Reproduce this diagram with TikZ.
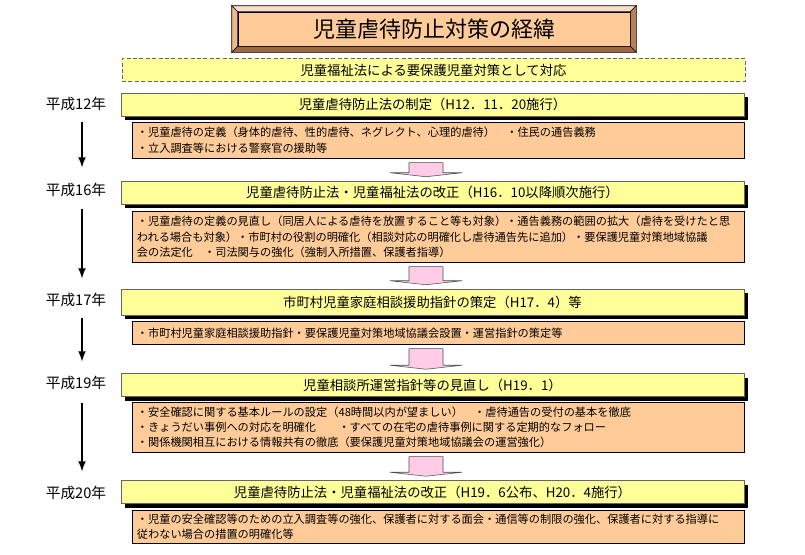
\documentclass[tikz,border=0pt]{standalone}
\usepackage{fontspec}
\setmainfont{Noto Sans CJK JP}
\usepackage{xcolor}
\usetikzlibrary{calc,shadows}
\definecolor{headyellow}{HTML}{FFFF99}
\definecolor{notepeach}{HTML}{FFCC99}
\definecolor{steppink}{HTML}{FFCCE8}
\definecolor{bevellight}{HTML}{FBDDC2}
\definecolor{bevelmid}{HTML}{EDB98F}
\definecolor{beveldark}{HTML}{B88058}
\definecolor{beveldeep}{HTML}{9C6842}
\tikzset{
  titlebox/.style  = {shape=rectangle, draw, fill=notepeach, inner sep=0pt,
          minimum width=294pt, minimum height=25.5pt,
          font=\fontsize{16.5}{18}\selectfont},
  introbox/.style  = {shape=rectangle, draw=black!60, dash pattern=on 3pt off 1.8pt,
          fill=headyellow, inner sep=0pt, minimum width=467.25pt,
          minimum height=17.5pt, font=\fontsize{10}{12}\selectfont},
  headbox/.style   = {shape=rectangle, draw=black!60, fill=headyellow, inner sep=0pt,
          minimum width=467.25pt, minimum height=17.25pt,
          font=\fontsize{10}{12}\selectfont,
          drop shadow={shadow xshift=3pt, shadow yshift=-3pt, fill=black, opacity=1}},
  notebox/.style   = {shape=rectangle, draw, fill=notepeach, anchor=north west,
          text width=452pt, align=left, inner xsep=3.5pt, inner ysep=0pt,
          font=\fontsize{8.4}{11.5}\selectfont},
  yearlabel/.style = {font=\fontsize{11}{13}\selectfont},
  timeline/.style  = {-latex, line width=1.6pt},
  pinkarrow/.style = {draw=black!70, fill=steppink, line join=round}
}
\newcommand\pinkstep[2]{%
  \draw[pinkarrow] ($(ax |- #1.south)+(-17,4)$) -- ($(ax |- #1.south)+(17,4)$)
    -- ($(ax |- #2.north)+(17,-8)$) -- ($(ax |- #2.north)+(36,-8)$)
    -- ($(ax |- #2.north)+(0,-4)$) -- ($(ax |- #2.north)+(-36,-8)$)
    -- ($(ax |- #2.north)+(-17,-8)$) -- cycle;}

\begin{document}
\begin{tikzpicture}[x=0.75pt, y=-0.75pt]
  \useasboundingbox (0,0) rectangle (805,554);
  \coordinate (ax) at (426,0);
  \coordinate (lx) at (82,0);

  % title with bevelled frame
  \node [titlebox] (title) at (434,29) {児童虐待防止対策の経緯};
  \draw [fill=bevellight] ($(title.north west)+(-6,-6)$) -- ($(title.north east)+(6,-6)$)
    -- (title.north east) -- (title.north west) -- cycle;
  \draw [fill=bevelmid] ($(title.north west)+(-6,-6)$) -- (title.north west)
    -- (title.south west) -- ($(title.south west)+(-6,6)$) -- cycle;
  \draw [fill=beveldark] ($(title.north east)+(6,-6)$) -- (title.north east)
    -- (title.south east) -- ($(title.south east)+(6,6)$) -- cycle;
  \draw [fill=beveldeep] ($(title.south west)+(-6,6)$) -- (title.south west)
    -- (title.south east) -- ($(title.south east)+(6,6)$) -- cycle;

  \node [introbox] (intro) at (433.5,70) {児童福祉法による要保護児童対策として対応};

  % H12
  \node [yearlabel] (y12) at (76,104) {平成12年};
  \node [headbox] (h12) at (432.5,104.5) {児童虐待防止法の制定（H12．11．20施行）};
  \node [notebox, minimum height=27pt] (n12) at (132,122)
    {・児童虐待の定義（身体的虐待、性的虐待、ネグレクト、心理的虐待）　・住民の通告義務\\
     ・立入調査等における警察官の援助等};

  % H16
  \node [yearlabel] (y16) at (76,190) {平成16年};
  \node [headbox] (h16) at (432.5,192.5) {児童虐待防止法・児童福祉法の改正（H16．10以降順次施行）};
  \node [notebox, minimum height=38.25pt] (n16) at (132,211)
    {・児童虐待の定義の見直し（同居人による虐待を放置すること等も対象）・通告義務の範囲の拡大（虐待を受けたと思\\
     われる場合も対象）・市町村の役割の明確化（相談対応の明確化し虐待通告先に追加）・要保護児童対策地域協議\\
     会の法定化　・司法関与の強化（強制入所措置、保護者指導）};

  % H17
  \node [yearlabel] (y17) at (76,300) {平成17年};
  \node [headbox, minimum height=19.5pt] (h17) at (432.5,302)
    {市町村児童家庭相談援助指針の策定（H17．4）等};
  \node [notebox, minimum height=17.25pt] (n17) at (132,321)
    {・市町村児童家庭相談援助指針・要保護児童対策地域協議会設置・運営指針の策定等};

  % H19
  \node [yearlabel] (y19) at (76,383) {平成19年};
  \node [headbox] (h19) at (432.5,385) {児童相談所運営指針等の見直し（H19．1）};
  \node [notebox, minimum height=37.5pt] (n19) at (132,402)
    {・安全確認に関する基本ルールの設定（48時間以内が望ましい）　・虐待通告の受付の基本を徹底\\
     ・きょうだい事例への対応を明確化　　・すべての在宅の虐待事例に関する定期的なフォロー\\
     ・関係機関相互における情報共有の徹底（要保護児童対策地域協議会の運営強化）};

  % H20
  \node [yearlabel] (y20) at (76,493) {平成20年};
  \node [headbox] (h20) at (432.5,492) {児童虐待防止法・児童福祉法の改正（H19．6公布、H20．4施行）};
  \node [notebox, minimum height=24.75pt] (n20) at (132,510)
    {・児童の安全確認等のための立入調査等の強化、保護者に対する面会・通信等の制限の強化、保護者に対する指導に\\
     従わない場合の措置の明確化等};

  % timeline on the left
  \draw [timeline] ($(lx |- y12.south)+(0,6)$) -- ($(lx |- y16.north)+(0,-11)$);
  \draw [timeline] ($(lx |- y16.south)+(0,7)$) -- ($(lx |- y17.north)+(0,-10)$);
  \draw [timeline] ($(lx |- y17.south)+(0,6)$) -- ($(lx |- y19.north)+(0,-10)$);
  \draw [timeline] ($(lx |- y19.south)+(0,8)$) -- ($(lx |- y20.north)+(0,-10)$);

  % pink steps between boxes
  \pinkstep{n12}{h16}
  \pinkstep{n16}{h17}
  \pinkstep{n17}{h19}
  \pinkstep{n19}{h20}
\end{tikzpicture}
\end{document}
